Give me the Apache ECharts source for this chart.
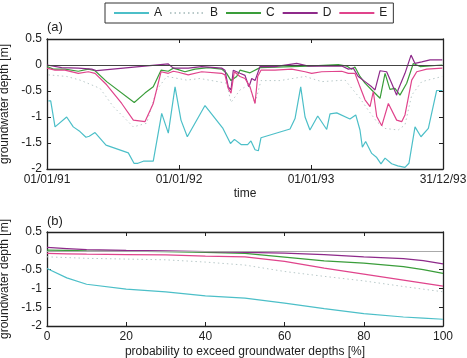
<!DOCTYPE html>
<html>
<head>
<meta charset="utf-8">
<script src="https://cdn.jsdelivr.net/npm/echarts@6/dist/echarts.min.js"></script>
<style>
  html, body { margin: 0; padding: 0; background: #fff; }
  #chart { width: 467px; height: 358px; }
</style>
</head>
<body>
<div id="chart"></div>
<script>
// (a) time series, x in years since 01/01/91
const dateLabels = ['01/01/91', '01/01/92', '01/01/93', '31/12/93']

const timeA = [0.01, 0.028, 0.061, 0.149, 0.199, 0.25, 0.295, 0.32, 0.364, 0.447, 0.616, 0.659, 0.689, 0.73, 0.805, 0.869, 0.919, 0.97, 1.015, 1.063, 1.197, 1.333, 1.39, 1.42, 1.47, 1.52, 1.545, 1.576, 1.601, 1.621, 1.841, 1.879, 1.922, 1.955, 1.992, 2.051, 2.119, 2.144, 2.195, 2.295, 2.339, 2.371, 2.389, 2.414, 2.46, 2.498, 2.53, 2.561, 2.611, 2.657, 2.712, 2.742, 2.788, 2.833, 2.889, 2.952, 2.995]
const depthA = [-0.69, -0.69, -1.19, -1.0, -1.19, -1.28, -1.39, -1.37, -1.3, -1.54, -1.69, -1.89, -1.89, -1.85, -1.85, -0.93, -1.31, -0.42, -1.06, -1.38, -0.78, -1.22, -1.51, -1.43, -1.53, -1.53, -1.46, -1.63, -1.65, -1.4, -1.23, -1.03, -0.42, -1.0, -1.25, -0.98, -1.24, -0.94, -0.92, -1.04, -0.96, -1.25, -1.58, -1.47, -1.7, -1.78, -1.9, -1.79, -1.9, -1.94, -1.97, -1.89, -1.19, -1.38, -1.22, -0.49, -0.49]

const timeB = [0.01, 0.149, 0.25, 0.402, 0.502, 0.654, 0.755, 0.831, 0.907, 1.058, 1.159, 1.361, 1.394, 1.462, 1.53, 1.576, 1.621, 1.765, 1.955, 2.081, 2.258, 2.371, 2.434, 2.498, 2.561, 2.661, 2.712, 2.763, 2.839, 2.995]
const depthB = [-0.19, -0.22, -0.29, -0.45, -0.8, -1.19, -1.12, -0.48, -0.22, -0.29, -0.26, -0.35, -0.72, -0.48, -0.38, -0.74, -0.3, -0.3, -0.22, -0.32, -0.29, -0.64, -0.87, -1.09, -1.22, -1.25, -1.15, -0.58, -0.32, -0.22]

const timeC = [0, 0.048, 0.136, 0.237, 0.313, 0.364, 0.452, 0.661, 0.742, 0.805, 0.864, 0.919, 0.957, 0.995, 1.045, 1.121, 1.222, 1.323, 1.361, 1.394, 1.437, 1.462, 1.538, 1.614, 1.854, 1.98, 2.207, 2.27, 2.308, 2.333, 2.371, 2.409, 2.46, 2.523, 2.561, 2.598, 2.636, 2.674, 2.725, 2.775, 2.826, 2.995]
const depthC = [-0.03, -0.08, -0.08, -0.12, -0.08, -0.11, -0.32, -0.72, -0.54, -0.42, -0.1, -0.12, -0.06, -0.09, -0.13, -0.08, -0.05, -0.08, -0.16, -0.3, -0.22, -0.1, -0.15, -0.05, -0.03, -0.02, 0.01, -0.02, -0.08, -0.04, -0.22, -0.35, -0.48, -0.64, -0.16, -0.47, -0.45, -0.58, -0.35, 0.03, -0.03, 0.0]

const timeD = [0, 0.111, 0.237, 0.339, 0.377, 0.919, 0.957, 1.07, 1.172, 1.323, 1.348, 1.373, 1.394, 1.411, 1.462, 1.5, 1.53, 1.551, 1.576, 1.614, 1.727, 1.892, 1.98, 2.106, 2.233, 2.283, 2.32, 2.358, 2.409, 2.46, 2.485, 2.523, 2.573, 2.611, 2.649, 2.661, 2.712, 2.758, 2.788, 2.839, 2.902, 2.995]
const depthD = [0.0, -0.05, -0.06, -0.08, -0.11, 0.02, -0.06, -0.06, -0.03, -0.06, -0.1, -0.42, -0.48, -0.1, -0.16, -0.2, -0.42, -0.26, -0.3, -0.03, -0.03, 0.03, -0.02, -0.02, -0.02, -0.08, -0.06, -0.22, -0.32, -0.42, -0.48, -0.11, -0.13, -0.35, -0.58, -0.47, -0.16, 0.19, 0.03, 0.06, 0.1, 0.1]

const timeE = [0, 0.061, 0.136, 0.237, 0.313, 0.364, 0.452, 0.566, 0.654, 0.742, 0.805, 0.864, 0.919, 0.957, 0.995, 1.07, 1.172, 1.323, 1.348, 1.373, 1.394, 1.419, 1.462, 1.5, 1.538, 1.576, 1.596, 1.621, 1.727, 1.854, 1.955, 2.005, 2.081, 2.233, 2.283, 2.333, 2.371, 2.409, 2.447, 2.472, 2.498, 2.536, 2.586, 2.649, 2.687, 2.712, 2.763, 2.801, 2.877, 2.995]
const depthE = [-0.06, -0.1, -0.1, -0.16, -0.13, -0.16, -0.38, -0.74, -1.06, -1.09, -0.74, -0.13, -0.16, -0.12, -0.14, -0.19, -0.13, -0.16, -0.19, -0.45, -0.54, -0.13, -0.22, -0.26, -0.42, -0.74, -0.22, -0.1, -0.1, -0.08, -0.13, -0.16, -0.13, -0.12, -0.16, -0.16, -0.42, -0.67, -0.8, -0.51, -0.99, -1.17, -0.74, -1.06, -1.09, -0.96, -0.29, -0.13, -0.08, -0.06]

// (b) exceedance curves
const prob = [0, 5, 10, 20, 30, 40, 50, 60, 70, 80, 90, 95, 100]
const exceedA = [-0.47, -0.72, -0.89, -1.02, -1.09, -1.2, -1.26, -1.39, -1.54, -1.67, -1.76, -1.79, -1.82]
const exceedB = [-0.16, -0.18, -0.2, -0.22, -0.24, -0.3, -0.38, -0.55, -0.68, -0.8, -0.95, -1.02, -1.09]
const exceedC = [0.02, 0.01, 0.0, -0.01, -0.02, -0.04, -0.07, -0.17, -0.27, -0.33, -0.42, -0.5, -0.6]
const exceedD = [0.09, 0.06, 0.03, 0.01, 0.0, -0.02, -0.04, -0.06, -0.1, -0.16, -0.21, -0.26, -0.35]
const exceedE = [-0.07, -0.08, -0.09, -0.1, -0.11, -0.14, -0.16, -0.28, -0.46, -0.62, -0.78, -0.86, -0.94]

const names = ['A', 'B', 'C', 'D', 'E']
const colors = ['#4cbfc8', '#b9c9c9', '#3a9d3a', '#8e2a8a', '#e0448c']
const times = [timeA, timeB, timeC, timeD, timeE]
const depths = [depthA, depthB, depthC, depthD, depthE]
const exceeds = [exceedA, exceedB, exceedC, exceedD, exceedE]

const font = 'Liberation Sans'
const frame = { show: true, onZero: false, lineStyle: { color: '#222', width: 1.3 } }
const ticks = { show: true, inside: true, length: 4, lineStyle: { color: '#222' } }
const label = { color: '#222', fontFamily: font, fontSize: 12, margin: 5 }

function xAx(grid, pos, min, max, interval, extra) {
    return Object.assign({
        type: 'value', gridIndex: grid, position: pos, min: min, max: max, interval: interval,
        axisLine: frame, axisTick: ticks, splitLine: { show: false },
        axisLabel: pos === 'bottom' ? label : { show: false }
    }, extra || {})
}
function yAx(grid, pos, extra) {
    return Object.assign({
        type: 'value', gridIndex: grid, position: pos, min: -2, max: 0.5, interval: 0.5,
        axisLine: frame, axisTick: ticks, splitLine: { show: false },
        axisLabel: pos === 'left' ? label : { show: false }
    }, extra || {})
}
const yName = {
    name: 'groundwater depth [m]', nameLocation: 'middle', nameGap: 33,
    nameTextStyle: { color: '#222', fontFamily: font, fontSize: 12 }
}

const series = []
names.forEach((n, i) => {
    const ls = n === 'B'
        ? { color: colors[i], width: 1, type: [1.5, 3] }
        : { color: colors[i], width: 1.2, type: 'solid' }
    series.push({
        name: n, type: 'line', xAxisIndex: 0, yAxisIndex: 0, symbol: 'none',
        color: colors[i], lineStyle: ls, z: 3,
        data: times[i].map((t, k) => [t, depths[i][k]])
    })
    series.push({
        name: n, type: 'line', xAxisIndex: 2, yAxisIndex: 2, symbol: 'none',
        color: colors[i], lineStyle: ls, z: 3,
        data: prob.map((p, k) => [p, exceeds[i][k]])
    })
})
// zero lines
series.push({
    type: 'line', xAxisIndex: 0, yAxisIndex: 0, data: [], z: 2,
    markLine: { silent: true, symbol: 'none', label: { show: false },
        lineStyle: { color: '#444', width: 1, type: 'solid' }, data: [{ yAxis: 0 }] }
})
series.push({
    type: 'line', xAxisIndex: 2, yAxisIndex: 2, data: [], z: 2,
    markLine: { silent: true, symbol: 'none', label: { show: false },
        lineStyle: { color: '#aaa', width: 1, type: 'solid' }, data: [{ yAxis: 0 }] }
})

const chart = echarts.init(document.getElementById('chart'))
chart.setOption({
    animation: false,
    textStyle: { fontFamily: font },
    legend: {
        data: names, left: 105, top: 3,
        itemWidth: 35, itemHeight: 12, itemGap: 7,
        padding: [4, 6, 4, 8],
        borderColor: '#333', borderWidth: 1,
        itemStyle: { opacity: 0 },
        textStyle: { color: '#222', fontFamily: font, fontSize: 12 }
    },
    graphic: [
        { type: 'text', left: 47, top: 21, style: { text: '(a)', fontFamily: font, fontSize: 13, fill: '#222' } },
        { type: 'text', left: 47, top: 215, style: { text: '(b)', fontFamily: font, fontSize: 13, fill: '#222' } }
    ],
    grid: [
        { left: 47, right: 24, top: 39, height: 130, outerBoundsMode: 'none' },
        { left: 47, right: 24, top: 232, height: 94, outerBoundsMode: 'none' }
    ],
    xAxis: [
        xAx(0, 'bottom', 0, 3, 1, {
            name: 'time', nameLocation: 'middle', nameGap: 19,
            nameTextStyle: { color: '#222', fontFamily: font, fontSize: 12 },
            axisLabel: Object.assign({}, label, { formatter: v => dateLabels[Math.round(v)] })
        }),
        xAx(0, 'top', 0, 3, 1),
        xAx(1, 'bottom', 0, 100, 20, {
            name: 'probability to exceed groundwater depths [%]', nameLocation: 'middle', nameGap: 20,
            nameTextStyle: { color: '#222', fontFamily: font, fontSize: 12 }
        }),
        xAx(1, 'top', 0, 100, 20)
    ],
    yAxis: [
        yAx(0, 'left', yName),
        yAx(0, 'right'),
        yAx(1, 'left', yName),
        yAx(1, 'right')
    ],
    series: series
})
</script>
</body>
</html>
